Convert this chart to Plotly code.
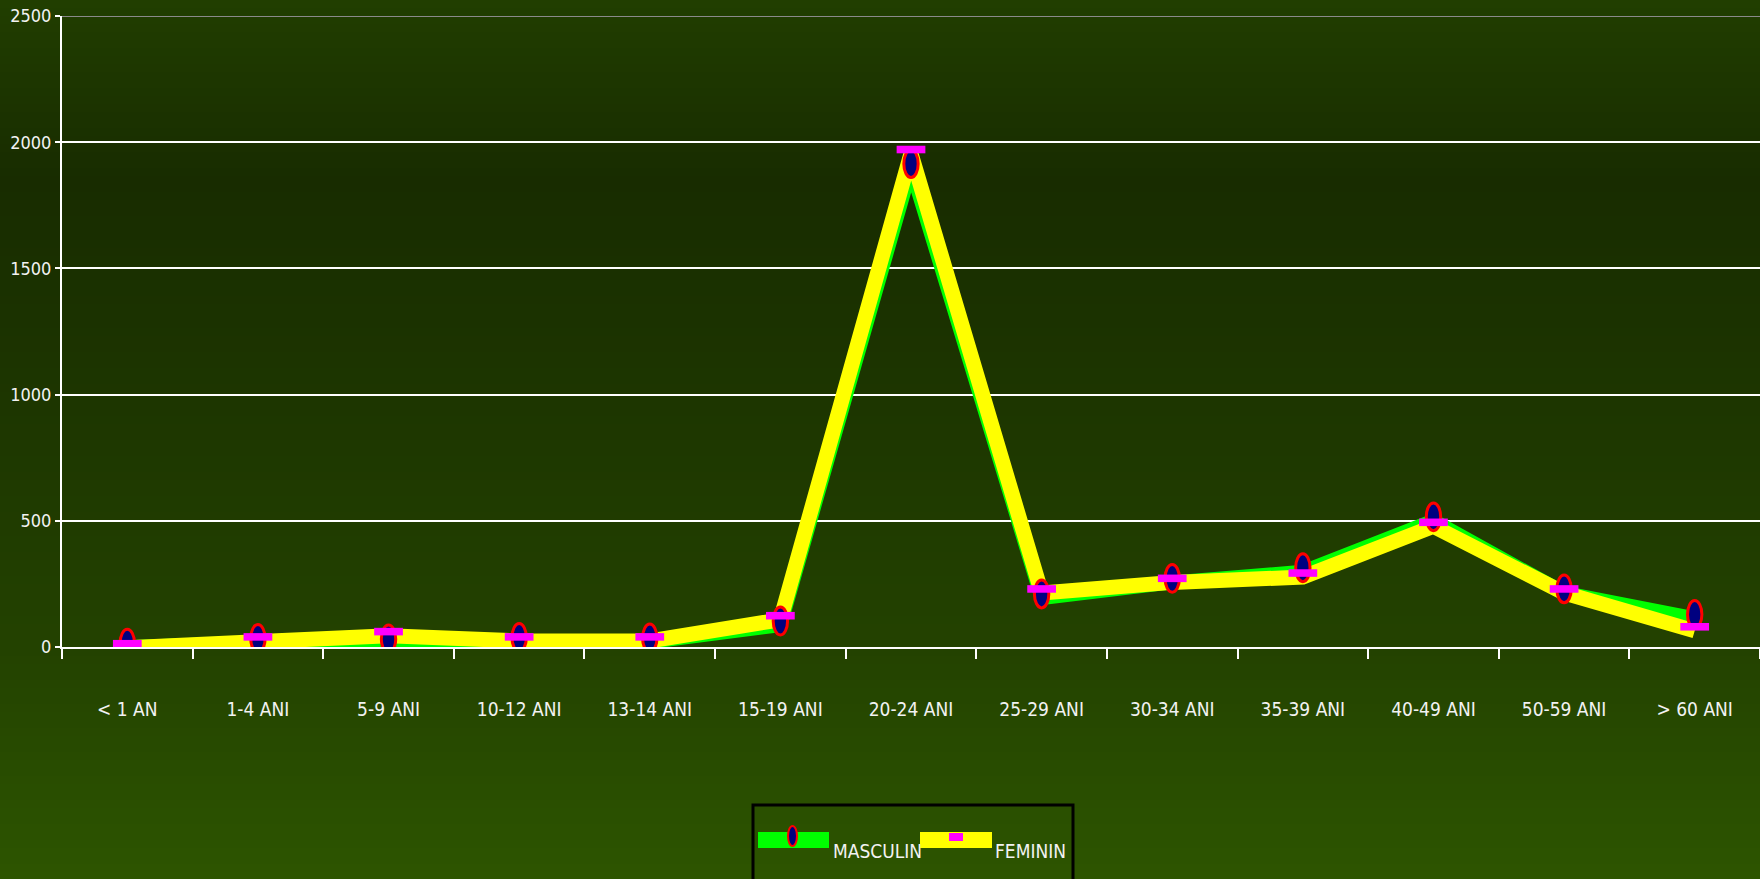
import plotly.graph_objects as go

categories = ["< 1 AN", "1-4 ANI", "5-9 ANI", "10-12 ANI", "13-14 ANI", "15-19 ANI",
              "20-24 ANI", "25-29 ANI", "30-34 ANI", "35-39 ANI", "40-49 ANI",
              "50-59 ANI", "> 60 ANI"]
masculin = [15, 34, 32, 38, 36, 103, 1915, 210, 272, 314, 516, 230, 129]
feminin = [13, 40, 61, 40, 40, 124, 1971, 230, 272, 293, 494, 230, 80]
y_ticks = [0, 500, 1000, 1500, 2000, 2500]
series_names = ["MASCULIN", "FEMININ"]

W, H = 1760, 879
L, R, T, B = 62, 0, 16, 232
PW, PH = W - L - R, H - T - B
FONT = "DejaVu Sans Condensed, Liberation Sans Narrow, sans-serif"


def px_x(px):
    return (px - L) / PW


def px_y(py):
    return (H - B - py) / PH


def lerp(c1, c2, t):
    return tuple(round(a + (b - a) * t) for a, b in zip(c1, c2))


stops = [(0, (33, 62, 0)), (180, (24, 44, 0)), (450, (30, 56, 0)),
         (647, (35, 66, 0)), (879, (45, 85, 0))]


def grad(py):
    for (y0, c0), (y1, c1) in zip(stops, stops[1:]):
        if y0 <= py <= y1:
            return lerp(c0, c1, (py - y0) / (y1 - y0))
    return stops[-1][1]


shapes = []
step = 8
for y in range(0, H + step, step):
    c = grad(y + step / 2)
    shapes.append(dict(type="rect", xref="paper", yref="paper", layer="below",
                       x0=px_x(-2), x1=px_x(W + 2), y0=px_y(y), y1=px_y(y + step + 1),
                       fillcolor="rgb(%d,%d,%d)" % c, line=dict(width=0)))

# top border line (gray)
shapes.append(dict(type="line", xref="paper", yref="y", x0=0, x1=1, y0=2500, y1=2500,
                   line=dict(color="#8a8a8a", width=2)))

# markers: ellipses for MASCULIN, rectangles for FEMININ
for i, v in enumerate(masculin):
    shapes.append(dict(type="circle", xref="x", yref="y",
                       x0=i - 0.055, x1=i + 0.055, y0=v - 55, y1=v + 55,
                       fillcolor="#000080", line=dict(color="#ff0000", width=3)))
for i, v in enumerate(feminin):
    shapes.append(dict(type="rect", xref="x", yref="y",
                       x0=i - 0.11, x1=i + 0.11, y0=v - 15, y1=v + 15,
                       fillcolor="#ff00ff", line=dict(width=0)))

# custom legend
shapes.append(dict(type="rect", xref="paper", yref="paper",
                   x0=px_x(753), x1=px_x(1073), y0=px_y(805), y1=px_y(900),
                   line=dict(color="#000000", width=3), fillcolor="rgba(0,0,0,0)"))
shapes.append(dict(type="rect", xref="paper", yref="paper",
                   x0=px_x(758), x1=px_x(829), y0=px_y(832), y1=px_y(848),
                   line=dict(width=0), fillcolor="#00ff00"))
shapes.append(dict(type="circle", xref="paper", yref="paper",
                   x0=px_x(788), x1=px_x(797), y0=px_y(826), y1=px_y(846),
                   line=dict(color="#ff0000", width=2), fillcolor="#000080"))
shapes.append(dict(type="rect", xref="paper", yref="paper",
                   x0=px_x(920), x1=px_x(992), y0=px_y(832), y1=px_y(848),
                   line=dict(width=0), fillcolor="#ffff00"))
shapes.append(dict(type="rect", xref="paper", yref="paper",
                   x0=px_x(949), x1=px_x(963), y0=px_y(833), y1=px_y(841),
                   line=dict(width=0), fillcolor="#ff00ff"))

annotations = [
    dict(text=series_names[0], xref="paper", yref="paper", x=px_x(831), y=px_y(851),
         xanchor="left", yanchor="middle", showarrow=False,
         font=dict(family=FONT, size=19, color="#f2f2f2")),
    dict(text=series_names[1], xref="paper", yref="paper", x=px_x(993), y=px_y(851),
         xanchor="left", yanchor="middle", showarrow=False,
         font=dict(family=FONT, size=19, color="#f2f2f2")),
]

fig = go.Figure()
fig.add_trace(go.Scatter(x=categories, y=masculin, mode="lines", name=series_names[0],
                         line=dict(color="#00ff00", width=14), yaxis="y2",
                         showlegend=False, hoverinfo="skip"))
fig.add_trace(go.Scatter(x=categories, y=feminin, mode="lines", name=series_names[1],
                         line=dict(color="#ffff00", width=15), yaxis="y2",
                         showlegend=False, hoverinfo="skip"))

fig.update_layout(
    width=W, height=H,
    margin=dict(l=L, r=R, t=T, b=B),
    paper_bgcolor="#1f3a00",
    plot_bgcolor="rgba(0,0,0,0)",
    font=dict(family=FONT, color="#f2f2f2"),
    shapes=shapes,
    annotations=annotations,
    xaxis=dict(type="category", categoryorder="array", categoryarray=categories,
               range=[-0.5, len(categories) - 0.5], showgrid=False,
               showline=True, linecolor="#ffffff", linewidth=2,
               ticks="outside", tickson="boundaries", ticklen=10, tickwidth=2,
               tickcolor="#ffffff", ticklabelstandoff=44,
               tickfont=dict(family=FONT, size=19, color="#f2f2f2"),
               zeroline=False, fixedrange=True),
    yaxis=dict(range=[0, 2500], tickvals=y_ticks, showgrid=True,
               gridcolor="#ffffff", gridwidth=2, zeroline=False,
               showline=True, linecolor="#ffffff", linewidth=2,
               ticks="outside", ticklen=5, tickwidth=2, tickcolor="#ffffff",
               tickfont=dict(family=FONT, size=18, color="#f2f2f2"),
               ticklabelstandoff=0, fixedrange=True),
    yaxis2=dict(range=[16, 2516], overlaying="y", visible=False, showgrid=False,
                fixedrange=True),
)

fig.write_html(
    "out.html",
    config={"displayModeBar": False, "staticPlot": True},
    post_script="document.body.style.margin='0';document.body.style.overflow='hidden';",
)
